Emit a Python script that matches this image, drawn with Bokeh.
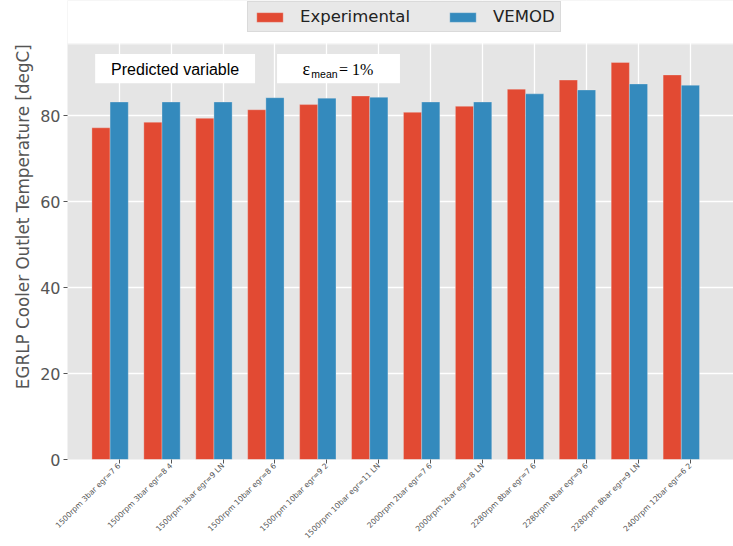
import numpy as np
from bokeh.plotting import figure
from bokeh.models import (ColumnDataSource, Legend, LegendItem, Range1d, FixedTicker,
                          BoxAnnotation, Label, Title)
from bokeh.embed import file_html
from bokeh.resources import INLINE
import math

categories = ["1500rpm 3bar egr=7 6", "1500rpm 3bar egr=8 4", "1500rpm 3bar egr=9 LN",
              "1500rpm 10bar egr=8 6", "1500rpm 10bar egr=9 2", "1500rpm 10bar egr=11 LN",
              "2000rpm 2bar egr=7 6", "2000rpm 2bar egr=8 LN", "2280rpm 8bar egr=7 6",
              "2280rpm 8bar egr=9 6", "2280rpm 8bar egr=9 LN", "2400rpm 12bar egr=6 2"]
experimental = [77.2, 78.5, 79.4, 81.4, 82.6, 84.6, 80.8, 82.2, 86.2, 88.3, 92.4, 89.5]
vemod = [83.2, 83.2, 83.2, 84.2, 84.1, 84.3, 83.2, 83.2, 85.1, 86.0, 87.4, 87.1]
y_ticks = [0, 20, 40, 60, 80]

RED = "#E24A33"
BLUE = "#348ABD"
BW = 0.35
Y_TOP = 96.85  # top of the grey axes area

pos = np.arange(len(categories))
src = ColumnDataSource(dict(x_exp=pos - BW, x_mod=pos, exp=experimental, mod=vemod))

p = figure(width=733, height=546, output_backend="svg", toolbar_location=None,
           x_range=Range1d(-0.995, 11.83), y_range=Range1d(0, 106.83),
           min_border_left=67, min_border_right=0, min_border_bottom=86, min_border_top=0)
p.background_fill_color = "#E5E5E5"
p.border_fill_color = "white"
p.outline_line_color = None

r1 = p.vbar(x="x_exp", top="exp", width=BW, source=src, fill_color=RED,
            line_color="#EEEEEE", line_width=0.5, line_alpha=0.6)
r2 = p.vbar(x="x_mod", top="mod", width=BW, source=src, fill_color=BLUE,
            line_color="#EEEEEE", line_width=0.5, line_alpha=0.6)

p.xgrid.grid_line_color = "white"
p.ygrid.grid_line_color = "white"
p.xgrid.grid_line_width = 1.3
p.ygrid.grid_line_width = 1.3
p.xaxis.ticker = FixedTicker(ticks=list(pos))
p.yaxis.ticker = FixedTicker(ticks=y_ticks)
p.xaxis.major_label_overrides = {int(i): c for i, c in zip(pos, categories)}
p.xaxis.major_label_orientation = math.pi / 4
p.xaxis.major_label_text_font_size = "7.6px"
p.xaxis.major_label_text_font = "DejaVu Sans"
p.xaxis.major_label_text_color = "#555555"
p.yaxis.major_label_text_font_size = "16px"
p.yaxis.major_label_text_font = "DejaVu Sans"
p.yaxis.major_label_text_color = "#555555"
for ax in (p.xaxis, p.yaxis):
    ax.axis_label = None
    ax.axis_line_color = None
    ax.minor_tick_line_color = None
    ax.major_tick_line_color = "#555555"
    ax.major_tick_out = 4
    ax.major_tick_in = 0
    ax.major_label_standoff = 3
p.xaxis.major_label_standoff = 1

# white area above the axes (the legend sits there)
p.add_layout(BoxAnnotation(bottom=Y_TOP, fill_color="white", fill_alpha=1,
                           line_color="white", line_width=3))

# y axis title
ytitle = Title(text="\u00a0" * 5 + "EGRLP Cooler Outlet Temperature [degC]", align="center",
               text_font="DejaVu Sans", text_font_size="16.8px", text_font_style="normal",
               text_color="#555555")
p.add_layout(ytitle, "left")

# annotation boxes
p.add_layout(BoxAnnotation(left=-0.462, right=2.617, bottom=87.56, top=94.38,
                           fill_color="white", fill_alpha=1, line_color=None))
p.add_layout(BoxAnnotation(left=3.04, right=5.407, bottom=87.56, top=94.38,
                           fill_color="white", fill_alpha=1, line_color=None))
p.add_layout(Label(x=1.078, y=90.71, text="Predicted variable", text_align="center",
                   text_baseline="middle", text_font="Liberation Sans",
                   text_font_size="16px", text_color="black"))
p.add_layout(Label(x=3.53, y=90.81, text="ε", text_align="left", text_baseline="middle",
                   text_font="Liberation Serif", text_font_size="18px", text_color="black"))
p.add_layout(Label(x=3.70, y=89.74, text="mean", text_align="left", text_baseline="middle",
                   text_font="Liberation Sans", text_font_size="10.5px", text_color="black"))
p.add_layout(Label(x=4.233, y=90.81, text="= 1%", text_align="left", text_baseline="middle",
                   text_font="Liberation Serif", text_font_size="16px", text_color="black"))

legend = Legend(items=[LegendItem(label="Experimental", renderers=[r1]),
                       LegendItem(label="VEMOD", renderers=[r2])],
                orientation="horizontal", location=(180, 427))
legend.label_text_font = "DejaVu Sans"
legend.label_text_font_size = "16.5px"
legend.label_text_color = "#222222"
legend.glyph_width = 33
legend.glyph_height = 12
legend.label_standoff = 14
legend.spacing = 36
legend.padding = 5
legend.margin = 0
legend.background_fill_color = "#E8E8E8"
legend.background_fill_alpha = 1
legend.border_line_color = "#CCCCCC"
p.add_layout(legend)

open("out.html", "w").write(file_html(p, INLINE))
